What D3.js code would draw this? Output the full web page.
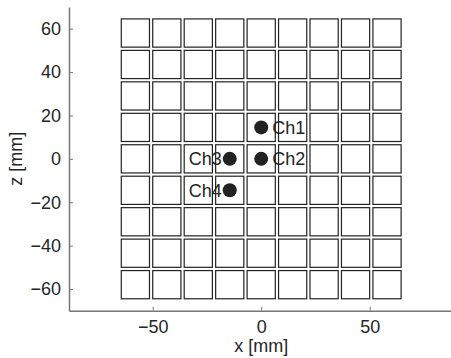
<!DOCTYPE html>
<html>
<head>
<meta charset="utf-8">
<script src="https://cdn.jsdelivr.net/npm/d3@7"></script>
<style>
  html, body { margin: 0; padding: 0; background: #fff; }
  svg { display: block; font-family: "Liberation Sans", Arial, Helvetica, sans-serif; }
</style>
</head>
<body>
<svg id="chart" width="451" height="358"></svg>
<script>
// Electrode grid: centre positions of the 9 x 9 pads (mm)
const padCentersX = [-58, -43.5, -29, -14.5, 0, 14.5, 29, 43.5, 58];
const padCentersZ = [-58, -43.5, -29, -14.5, 0, 14.5, 29, 43.5, 58];
const padSize = 13;

// Recording channels
const channelNames = ["Ch1", "Ch2", "Ch3", "Ch4"];
const channelX = [0, 0, -14.5, -14.5];
const channelZ = [14.5, 0, 0, -14.5];
const labelSide = ["right", "right", "left", "left"];

// Axis ticks
const xTicks = [-50, 0, 50];
const zTicks = [-60, -40, -20, 0, 20, 40, 60];

const svg = d3.select("#chart");
const ink = "#262626";
const axisGrey = "#777";
const fontSize = 18;

const x = d3.scaleLinear().domain([-88.6, 88.6]).range([69, 453.4]);
const z = d3.scaleLinear().domain([-70, 70]).range([310.7, 7]);

// Pads
const pads = [];
padCentersZ.forEach(cz => padCentersX.forEach(cx => pads.push({ cx, cz })));
svg.append("g")
  .selectAll("rect")
  .data(pads)
  .join("rect")
  .attr("x", d => x(d.cx - padSize / 2))
  .attr("y", d => z(d.cz + padSize / 2))
  .attr("width", d => x(d.cx + padSize / 2) - x(d.cx - padSize / 2))
  .attr("height", d => z(d.cz - padSize / 2) - z(d.cz + padSize / 2))
  .attr("fill", "#fff")
  .attr("stroke", "#222")
  .attr("stroke-width", 1.2);

// Channels
const channels = channelNames.map((name, i) => ({ name, x: channelX[i], z: channelZ[i], side: labelSide[i] }));
const ch = svg.append("g").selectAll("g").data(channels).join("g");
ch.append("circle")
  .attr("cx", d => x(d.x))
  .attr("cy", d => z(d.z))
  .attr("r", 7)
  .attr("fill", "#222");
ch.append("text")
  .attr("x", d => x(d.x) + (d.side === "right" ? 11 : -8))
  .attr("y", d => z(d.z))
  .attr("dy", "0.36em")
  .attr("text-anchor", d => d.side === "right" ? "start" : "end")
  .attr("font-size", fontSize)
  .attr("fill", ink)
  .text(d => d.name);

// Axes
const xAxis = d3.axisBottom(x).tickValues(xTicks).tickSizeInner(-4).tickSizeOuter(0).tickPadding(10)
  .tickFormat(d => d < 0 ? "\u2212" + Math.abs(d) : d);
const zAxis = d3.axisLeft(z).tickValues(zTicks).tickSizeInner(-4).tickSizeOuter(0).tickPadding(8)
  .tickFormat(d => d < 0 ? "\u2212" + Math.abs(d) : d);

const gx = svg.append("g").attr("transform", `translate(0,${z(-70)})`).call(xAxis);
const gz = svg.append("g").attr("transform", `translate(${x(-88.6)},0)`).call(zAxis);
[gx, gz].forEach(g => {
  g.select(".domain").attr("stroke", axisGrey).attr("stroke-width", 1.5);
  g.selectAll(".tick line").attr("stroke", axisGrey).attr("stroke-width", 1);
  g.selectAll(".tick text").attr("fill", ink).attr("font-size", fontSize)
    .attr("font-family", "Liberation Sans, Arial, sans-serif");
});

// Axis titles
svg.append("text")
  .attr("x", x(0))
  .attr("y", 352)
  .attr("text-anchor", "middle")
  .attr("font-size", fontSize)
  .attr("fill", ink)
  .text("x [mm]");
svg.append("text")
  .attr("transform", `translate(22,${z(0)}) rotate(-90)`)
  .attr("text-anchor", "middle")
  .attr("font-size", fontSize)
  .attr("fill", ink)
  .text("z [mm]");
</script>
</body>
</html>
